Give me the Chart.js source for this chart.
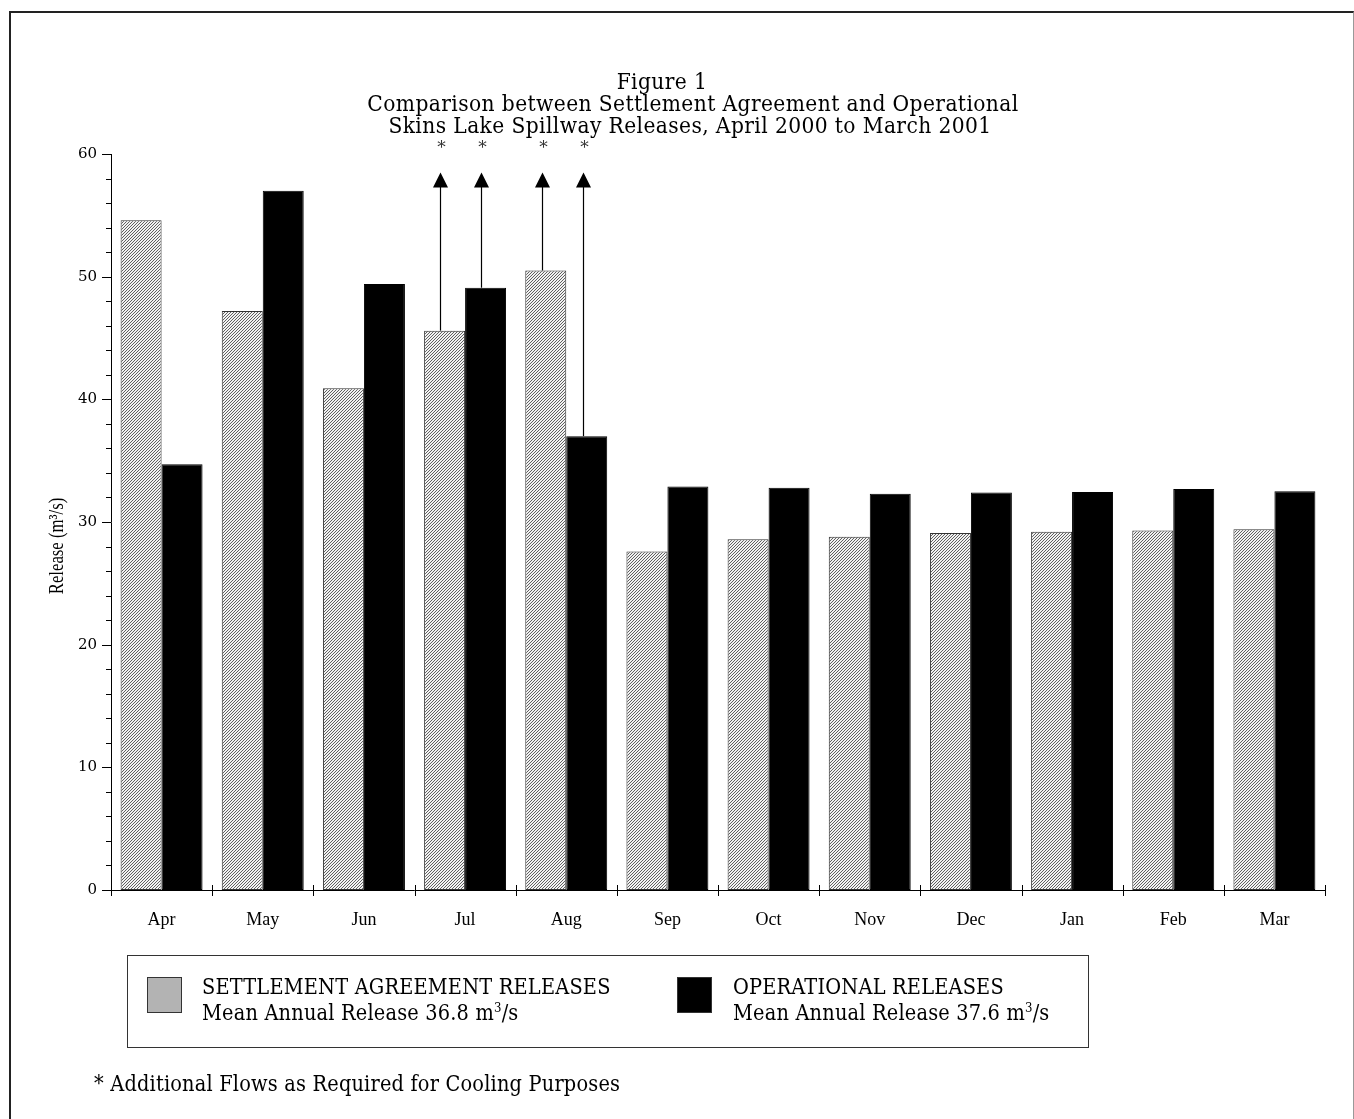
<!DOCTYPE html>
<html><head><meta charset="utf-8">
<script src="https://cdn.jsdelivr.net/npm/chart.js@4.4.0/dist/chart.umd.min.js"></script>
<style>
html,body{margin:0;padding:0;background:#fff;}
#wrap{position:relative;width:1354px;height:1119px;overflow:hidden;background:#fff;}
#frame{position:absolute;left:9px;top:11px;width:1345px;height:1200px;box-sizing:border-box;border-left:2px solid #222;border-top:2px solid #222;border-right:1px solid #999;}
#c{position:absolute;left:0;top:0;}
.tl{position:absolute;width:1324px;text-align:center;font-family:"DejaVu Serif Condensed","DejaVu Serif";font-size:22.5px;letter-spacing:0.4px;line-height:22px;color:#000;white-space:nowrap;}
#legend{position:absolute;left:127px;top:955px;width:962px;height:93px;box-sizing:border-box;border:1px solid #333;font-family:"DejaVu Serif Condensed","DejaVu Serif";color:#000;}
.sw{position:absolute;top:21px;width:35px;height:36px;box-sizing:border-box;border:1px solid #333;}
.lt{position:absolute;top:18px;font-size:21.5px;letter-spacing:0.2px;line-height:26px;white-space:nowrap;}
.lt sup{font-size:13px;line-height:0;}
#foot{position:absolute;left:94px;top:1071px;font-family:"DejaVu Serif Condensed","DejaVu Serif";font-size:21.5px;letter-spacing:0.2px;color:#000;white-space:nowrap;}
</style></head>
<body><div id="wrap">
<div id="frame"></div>
<canvas id="c" width="1354" height="1119"></canvas>
<div id="t0" class="tl" style="left:0;top:70px;"></div>
<div id="t1" class="tl" style="left:31px;top:92px;"></div>
<div id="t2" class="tl" style="left:28px;top:114px;"></div>
<div id="legend">
  <div class="sw" style="left:19px;background:#b3b3b3;"></div>
  <div class="lt" style="left:74px;">SETTLEMENT AGREEMENT RELEASES<br>Mean Annual Release 36.8 m<sup>3</sup>/s</div>
  <div class="sw" style="left:549px;background:#000;"></div>
  <div class="lt" style="left:605px;">OPERATIONAL RELEASES<br>Mean Annual Release 37.6 m<sup>3</sup>/s</div>
</div>
<div id="foot">* Additional Flows as Required for Cooling Purposes</div>
</div>
<script>
// ---- data ----
const months = ['Apr','May','Jun','Jul','Aug','Sep','Oct','Nov','Dec','Jan','Feb','Mar'];
const settlement  = [54.6, 47.2, 40.9, 45.6, 50.5, 27.6, 28.6, 28.8, 29.1, 29.2, 29.3, 29.4];
const operational = [34.7, 57.0, 49.4, 49.1, 37.0, 32.9, 32.8, 32.3, 32.4, 32.45, 32.7, 32.5];
const settlementArrows  = [false,false,false,true,true,false,false,false,false,false,false,false];
const operationalArrows = [false,false,false,true,true,false,false,false,false,false,false,false];
const arrowTipValue = 58.5;
const yTickValues = [0,10,20,30,40,50,60];
const yAxisTitle = 'Release (m³/s)';
const titleLines = ['Figure 1','Comparison between Settlement Agreement and Operational','Skins Lake Spillway Releases, April 2000 to March 2001'];

titleLines.forEach((t,i)=>{document.getElementById('t'+i).textContent=t;});

function hatch(){
  const p=document.createElement('canvas');p.width=3;p.height=3;
  const g=p.getContext('2d');g.fillStyle='#f2f2f2';g.fillRect(0,0,3,3);
  g.fillStyle='#606060';
  for(let i=0;i<3;i++){g.fillRect(i,2-i,1,1);}
  return g.createPattern(p,'repeat');
}
const hatchPattern=hatch();

const axisTicks={
  id:'axisTicks',
  afterDraw(chart){
    const {ctx,scales:{x,y},chartArea:a}=chart;
    ctx.save();ctx.strokeStyle='#000';ctx.lineWidth=1;
    for(let v=y.min;v<=y.max;v+=2){
      const py=Math.round(y.getPixelForValue(v))+0.5;
      const major=yTickValues.includes(v);
      ctx.beginPath();ctx.moveTo(a.left-(major?9:5),py);ctx.lineTo(a.left,py);ctx.stroke();
    }
    for(let i=0;i<=months.length;i++){
      const px=Math.round(x.getPixelForValue(i-0.5))+0.5;
      ctx.beginPath();ctx.moveTo(px,a.bottom-5);ctx.lineTo(px,a.bottom+6);ctx.stroke();
    }
    // y axis title
    ctx.fillStyle='#000';ctx.font='22px "Liberation Serif"';
    ctx.textAlign='center';ctx.textBaseline='middle';
    ctx.translate(57,(a.top+a.bottom)/2+24);ctx.rotate(-Math.PI/2);ctx.scale(0.76,1);
    ctx.fillText(yAxisTitle,0,0);
    ctx.restore();
  }
};
const arrows={
  id:'arrows',
  afterDatasetsDraw(chart){
    const {ctx,scales:{y}}=chart;
    const tip=y.getPixelForValue(arrowTipValue);
    [[0,settlementArrows],[1,operationalArrows]].forEach(([di,flags])=>{
      const meta=chart.getDatasetMeta(di);
      flags.forEach((f,i)=>{
        if(!f)return;
        const bar=meta.data[i];
        const px=Math.round(bar.x-bar.width*0.1)+0.5;
        ctx.save();
        ctx.strokeStyle='#000';ctx.lineWidth=1.2;
        ctx.beginPath();ctx.moveTo(px,bar.y);ctx.lineTo(px,tip+12);ctx.stroke();
        ctx.fillStyle='#000';
        ctx.beginPath();ctx.moveTo(px,tip);ctx.lineTo(px-7.5,tip+15);ctx.lineTo(px+7.5,tip+15);ctx.closePath();ctx.fill();
        ctx.font='17px "DejaVu Serif"';ctx.textAlign='center';ctx.textBaseline='middle';
        ctx.fillStyle='#333';
        ctx.fillText('*',px+1,tip-24);
        ctx.restore();
      });
    });
  }
};

new Chart(document.getElementById('c'),{
  type:'bar',
  data:{labels:months,datasets:[
    {label:'SETTLEMENT AGREEMENT RELEASES',data:settlement,backgroundColor:hatchPattern,borderColor:'#333',borderWidth:1,borderSkipped:false},
    {label:'OPERATIONAL RELEASES',data:operational,backgroundColor:'#000',borderColor:'#000',borderWidth:1,borderSkipped:false}
  ]},
  options:{
    responsive:false,animation:false,devicePixelRatio:1,
    datasets:{bar:{categoryPercentage:0.81,barPercentage:1.0}},
    layout:{padding:{left:0,right:29,top:154,bottom:0}},
    plugins:{
      legend:{display:false},tooltip:{enabled:false},title:{display:false}
    },
    scales:{
      x:{
        grid:{display:false,drawTicks:false},
        border:{display:true,color:'#000',width:1},
        ticks:{color:'#000',font:{family:'Liberation Serif',size:18},padding:19},
        afterFit(s){s.height=229;}
      },
      y:{
        min:0,max:60,
        afterBuildTicks(s){s.ticks=yTickValues.map(v=>({value:v}));},
        grid:{display:false,drawTicks:false},
        border:{display:true,color:'#000',width:1},
        ticks:{color:'#000',font:{family:'DejaVu Serif',size:15},padding:14},
        title:{display:false,text:yAxisTitle},
        afterFit(s){s.width=111;}
      }
    }
  },
  plugins:[axisTicks,arrows]
});
</script>
</body></html>
